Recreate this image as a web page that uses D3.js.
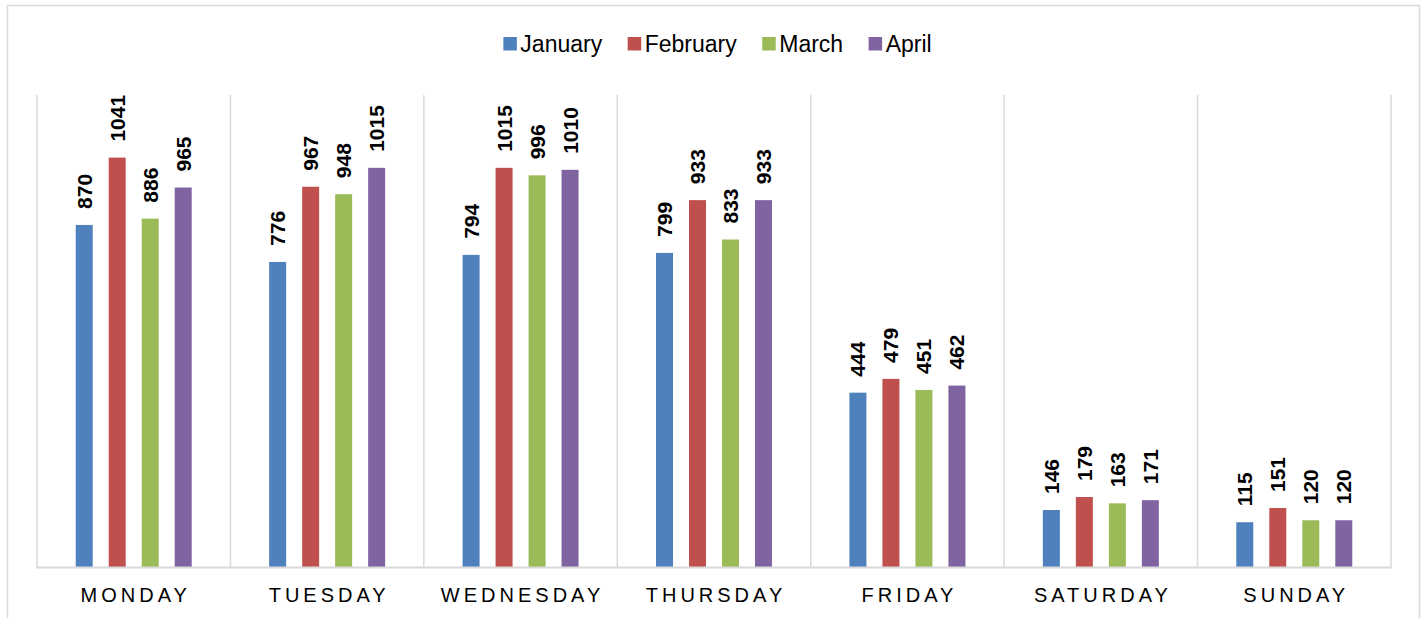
<!DOCTYPE html>
<html>
<head>
<meta charset="utf-8">
<script src="https://cdn.jsdelivr.net/npm/d3@7"></script>
<style>
  html, body { margin: 0; padding: 0; background: #ffffff; }
  svg { display: block; font-family: "Liberation Sans", Arial, sans-serif; }
</style>
</head>
<body>
<svg id="chart" width="1426" height="618"></svg>
<script>
const days = ["MONDAY", "TUESDAY", "WEDNESDAY", "THURSDAY", "FRIDAY", "SATURDAY", "SUNDAY"];
const months = ["January", "February", "March", "April"];
const january  = [870, 776, 794, 799, 444, 146, 115];
const february = [1041, 967, 1015, 933, 479, 179, 151];
const march    = [886, 948, 996, 833, 451, 163, 120];
const april    = [965, 1015, 1010, 933, 462, 171, 120];
const colors   = ["#4f81bd", "#c0504d", "#9bbb59", "#8064a2"];

const seriesValues = [january, february, march, april];

const svg = d3.select("#chart");

// outer chart border
svg.append("rect")
  .attr("x", 7.5).attr("y", 5.5)
  .attr("width", 1412).attr("height", 630)
  .attr("fill", "#fff").attr("stroke", "#d9d9d9").attr("stroke-width", 1.5);

const plot = { left: 37, right: 1391, top: 95, bottom: 567.5 };

const x0 = d3.scaleBand().domain(days).range([plot.left, plot.right]).padding(0);
const bw = x0.bandwidth();
const x1 = d3.scaleBand().domain(months)
  .range([bw / 2 - 66, bw / 2 + 66])
  .paddingInner(0.485).paddingOuter(0.2425);
const y = d3.scaleLinear().domain([0, 1200]).range([plot.bottom, plot.top]);

// vertical category separators (gridlines)
const seps = days.map(d => x0(d)).concat([plot.right]);
svg.append("g").selectAll("line").data(seps).join("line")
  .attr("x1", d => d).attr("x2", d => d)
  .attr("y1", plot.top).attr("y2", plot.bottom)
  .attr("stroke", "#d9d9d9").attr("stroke-width", 1.5);

// bars
const groups = svg.append("g").selectAll("g").data(days).join("g")
  .attr("transform", d => `translate(${x0(d)},0)`);

groups.each(function(day, i) {
  const g = d3.select(this);
  months.forEach((m, j) => {
    const v = seriesValues[j][i];
    g.append("rect")
      .attr("x", x1(m))
      .attr("y", y(v))
      .attr("width", x1.bandwidth())
      .attr("height", y(0) - y(v))
      .attr("fill", colors[j]);
    const cx = x1(m) + x1.bandwidth() / 2;
    const ty = y(v) - 16;
    g.append("text")
      .attr("transform", `translate(${cx + 7.5},${ty}) rotate(-90)`)
      .attr("text-anchor", "start")
      .attr("font-size", 21)
      .attr("font-weight", "bold")
      .attr("fill", "#000")
      .text(v);
  });
});

// x axis baseline
const xAxis = d3.axisBottom(x0).tickSize(0).tickPadding(0);
const axisG = svg.append("g").attr("transform", `translate(0,${plot.bottom})`).call(xAxis);
axisG.select(".domain").attr("stroke", "#d9d9d9").attr("stroke-width", 2.2)
  .attr("d", `M${plot.left - 1},0H${plot.right + 1}`);
axisG.selectAll(".tick text")
  .attr("y", 34.5)
  .attr("dy", 0)
  .attr("font-size", 20)
  .attr("font-family", "'Liberation Sans', Arial, sans-serif")
  .attr("letter-spacing", "4px")
  .attr("fill", "#000")
  .attr("text-anchor", "middle")
  .attr("dx", "2px");

// legend
const legend = svg.append("g");
let lx = 0;
months.forEach((m, j) => {
  const it = legend.append("g");
  it.append("rect").attr("x", 0).attr("y", 37).attr("width", 13.5).attr("height", 13.5).attr("fill", colors[j]);
  const t = it.append("text").attr("x", 17).attr("y", 52)
    .attr("font-size", 23).attr("fill", "#000").text(m);
  const w = t.node().getComputedTextLength();
  it.attr("transform", `translate(${lx},0)`);
  lx += 17 + w + 25.5;
});
const totalW = lx - 25.5;
legend.attr("transform", `translate(${717.5 - totalW / 2},0)`);
</script>
</body>
</html>
